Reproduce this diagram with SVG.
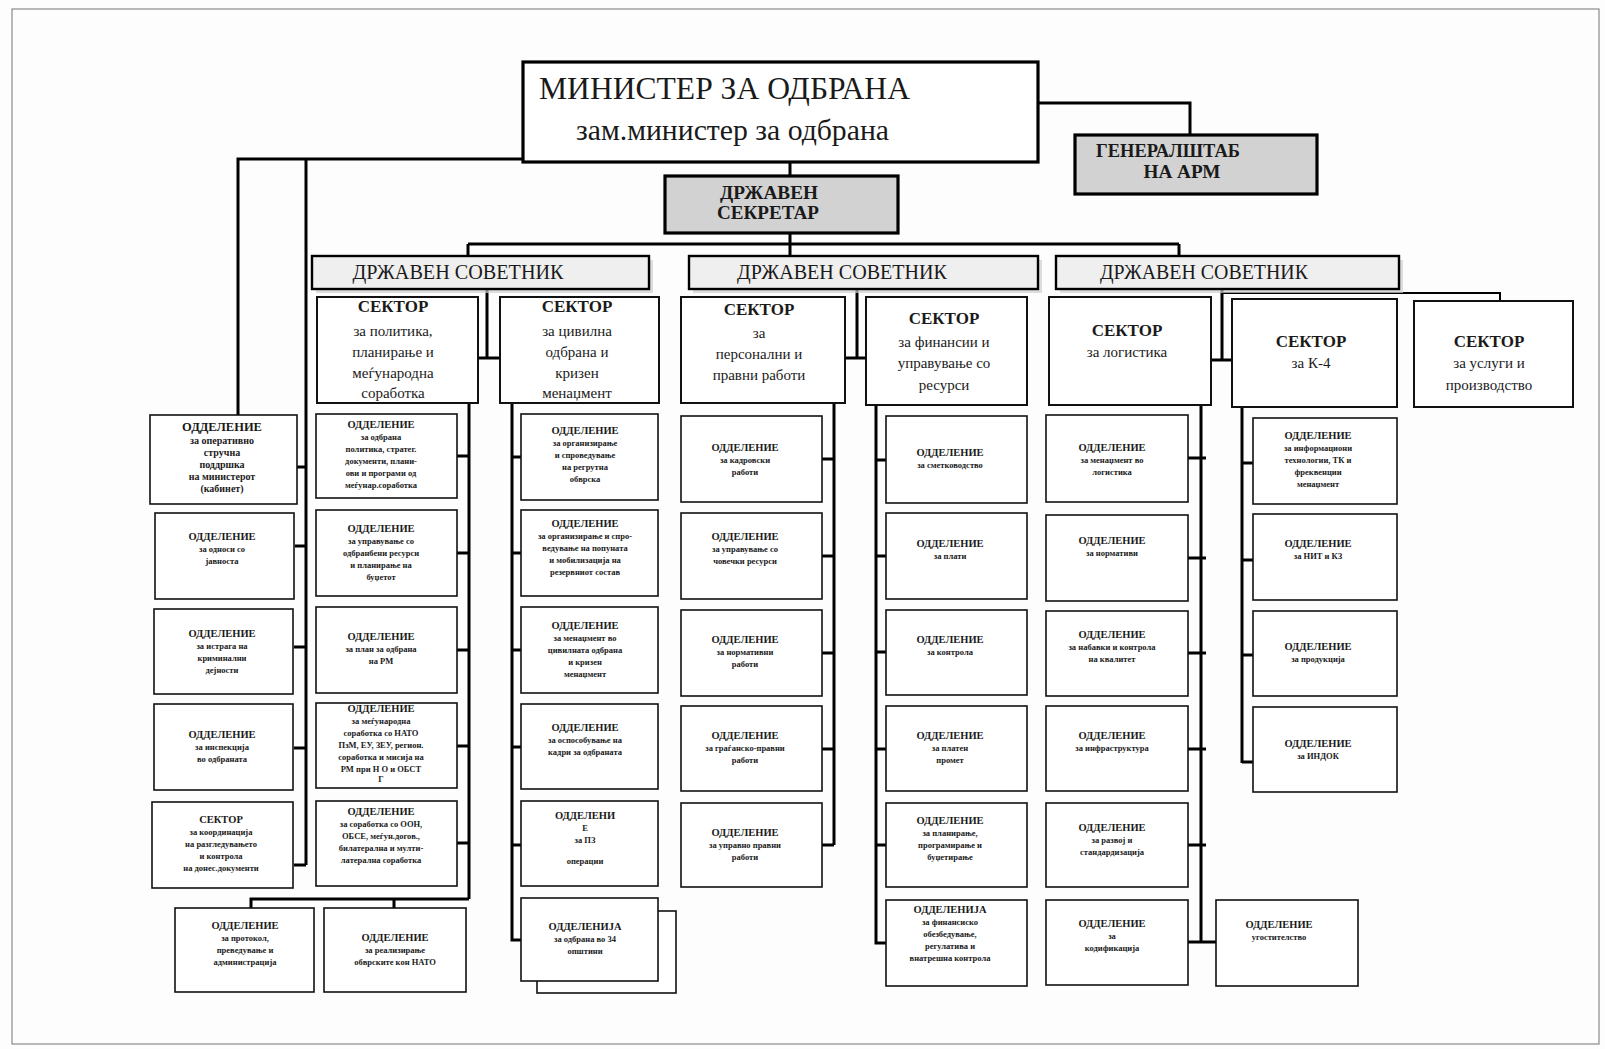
<svg xmlns="http://www.w3.org/2000/svg" width="1605" height="1049" viewBox="0 0 1605 1049">
  <style>
    .frame { fill: none; stroke: #8a8a8a; stroke-width: 1.2; }
    .b { fill: #fff; stroke: #111; stroke-width: 1.6; }
    .sb { fill: #fff; stroke: #111; stroke-width: 2; }
    .top { fill: #fff; stroke: #000; stroke-width: 3.2; }
    .grey { fill: #d2d2d2; stroke: #000; stroke-width: 3.2; }
    .adv { fill: #efefef; stroke: #000; stroke-width: 2.4; }
    .shadow { fill: #cfcfcf; opacity: 0.7; }
    .c { fill: none; stroke: #000; stroke-width: 3; }
    .c2 { fill: none; stroke: #000; stroke-width: 2; }
    text { font-family: "Liberation Serif", "DejaVu Serif", serif; fill: #1a1a1a; text-anchor: middle; }
    .h { font-size: 10.5px; font-weight: bold; }
    .s { font-size: 8.5px; font-weight: bold; }
    .hl { font-size: 12.5px; font-weight: bold; }
    .sl { font-size: 10px; font-weight: bold; }
    .st { font-size: 17px; font-weight: bold; }
    .ss { font-size: 15px; }
    .big { font-size: 31px; text-anchor: start; }
    .mid { font-size: 30px; text-anchor: start; }
    .gt { font-size: 19px; font-weight: bold; }
    .adt { font-size: 20px; }
  </style>

  <rect width="1605" height="1049" fill="#fdfdfd"/>
  <rect class="frame" x="12" y="9" width="1587" height="1035"/>

  <!-- connectors -->
  <g id="connectors">
    <path class="c" d="M1038,103 H1190 V135"/>
    <path class="c" d="M790,162 V176"/>
    <path class="c" d="M790,233 V256 M468,244 H1179 M468,244 V256 M1179,244 V256"/>
    <!-- minister to the left column -->
    <path class="c" d="M523,159 H238 V415"/>
    <path class="c" d="M306,159 V865 M295,467 H306 M295,546 H306 M294,647 H306 M294,748 H306 M294,865 H306"/>
    <!-- adviser 1 -->
    <path class="c" d="M487,289 V358 M478,358 H500"/>
    <path class="c" d="M469,403 V899 M457,456 H469 M457,553 H469 M457,650 H469 M457,746 H469 M457,843 H469"/>
    <path class="c" d="M251,908 V899 H469 M394,899 V908"/>
    <path class="c" d="M512,403 V940 H521 M512,457 H521 M512,553 H521 M512,650 H521 M512,747 H521 M512,845 H521"/>
    <!-- adviser 2 -->
    <path class="c" d="M857,289 V358 M845,358 H866"/>
    <path class="c" d="M834,403 V845 M822,459 H834 M822,556 H834 M822,653 H834 M822,749 H834 M822,845 H834"/>
    <path class="c" d="M876,405 V943 H886 M876,460 H886 M876,556 H886 M876,652 H886 M876,749 H886 M876,845 H886"/>
    <!-- adviser 3 -->
    <path class="c" d="M1222,289 V360 M1211,360 H1232"/>
    <path class="c2" d="M1222,293 H1500 V301"/>
    <path class="c" d="M1201,405 V942 M1188,458 H1206 M1188,558 H1206 M1188,653 H1206 M1188,749 H1206 M1188,845 H1206 M1188,942 H1216"/>
    <path class="c" d="M1242,407 V763 M1242,463 H1253 M1242,560 H1253 M1242,655 H1253 M1242,762 H1253"/>
  </g>

  <!-- top level -->
  <g id="minister">
    <rect class="top" x="523" y="62" width="515" height="100"/>
    <text class="big" x="539" y="99" textLength="371" lengthAdjust="spacingAndGlyphs">МИНИСТЕР ЗА ОДБРАНА</text>
    <text class="mid" x="576" y="140" textLength="313" lengthAdjust="spacingAndGlyphs">зам.министер за одбрана</text>
  </g>
  <g id="general-staff">
    <rect class="grey" x="1075" y="135" width="242" height="59"/>
    <text class="gt" x="1168" y="157" textLength="144" lengthAdjust="spacingAndGlyphs">ГЕНЕРАЛШТАБ</text>
    <text class="gt" x="1182" y="178" textLength="77" lengthAdjust="spacingAndGlyphs">НА АРМ</text>
  </g>
  <g id="state-secretary">
    <rect class="grey" x="665" y="176" width="233" height="57"/>
    <text class="gt" x="769" y="199" textLength="98" lengthAdjust="spacingAndGlyphs">ДРЖАВЕН</text>
    <text class="gt" x="768" y="219" textLength="102" lengthAdjust="spacingAndGlyphs">СЕКРЕТАР</text>
  </g>

  <!-- state advisers -->
  <g id="adviser-1">
    <rect class="shadow" x="316" y="260" width="337" height="33"/>
    <rect class="adv" x="312" y="256" width="337" height="33"/>
    <text class="adt" x="458" y="279" textLength="211" lengthAdjust="spacingAndGlyphs">ДРЖАВЕН СОВЕТНИК</text>
  </g>
  <g id="adviser-2">
    <rect class="shadow" x="693" y="260" width="349" height="33"/>
    <rect class="adv" x="689" y="256" width="349" height="33"/>
    <text class="adt" x="842" y="279" textLength="210" lengthAdjust="spacingAndGlyphs">ДРЖАВЕН СОВЕТНИК</text>
  </g>
  <g id="adviser-3">
    <rect class="shadow" x="1060" y="260" width="343" height="33"/>
    <rect class="adv" x="1056" y="256" width="343" height="33"/>
    <text class="adt" x="1204" y="279" textLength="208" lengthAdjust="spacingAndGlyphs">ДРЖАВЕН СОВЕТНИК</text>
  </g>

  <!-- sectors -->
  <g id="sector-policy">
    <rect class="sb" x="317" y="297" width="161" height="106"/>
    <text class="st" x="393" y="312">СЕКТОР</text>
    <text class="ss" x="393" y="336">за политика,</text>
    <text class="ss" x="393" y="357">планирање и</text>
    <text class="ss" x="393" y="378">меѓународна</text>
    <text class="ss" x="393" y="398">соработка</text>
  </g>
  <g id="sector-civil">
    <rect class="sb" x="500" y="297" width="159" height="106"/>
    <text class="st" x="577" y="312">СЕКТОР</text>
    <text class="ss" x="577" y="336">за цивилна</text>
    <text class="ss" x="577" y="357">одбрана и</text>
    <text class="ss" x="577" y="378">кризен</text>
    <text class="ss" x="577" y="398">менаџмент</text>
  </g>
  <g id="sector-personnel">
    <rect class="sb" x="681" y="297" width="164" height="106"/>
    <text class="st" x="759" y="315">СЕКТОР</text>
    <text class="ss" x="759" y="338">за</text>
    <text class="ss" x="759" y="359">персонални и</text>
    <text class="ss" x="759" y="380">правни работи</text>
  </g>
  <g id="sector-finance">
    <rect class="sb" x="866" y="297" width="161" height="108"/>
    <text class="st" x="944" y="324">СЕКТОР</text>
    <text class="ss" x="944" y="347">за финансии и</text>
    <text class="ss" x="944" y="368">управување со</text>
    <text class="ss" x="944" y="390">ресурси</text>
  </g>
  <g id="sector-logistics">
    <rect class="sb" x="1049" y="297" width="162" height="108"/>
    <text class="st" x="1127" y="336">СЕКТОР</text>
    <text class="ss" x="1127" y="357">за логистика</text>
  </g>
  <g id="sector-c4">
    <rect class="sb" x="1232" y="299" width="165" height="108"/>
    <text class="st" x="1311" y="347">СЕКТОР</text>
    <text class="ss" x="1311" y="368">за К-4</text>
  </g>
  <g id="sector-services">
    <rect class="sb" x="1414" y="301" width="159" height="106"/>
    <text class="st" x="1489" y="347">СЕКТОР</text>
    <text class="ss" x="1489" y="368">за услуги и</text>
    <text class="ss" x="1489" y="390">производство</text>
  </g>

  <!-- units under the minister -->
  <g id="unit-cabinet">
    <rect class="b" x="150" y="415" width="147" height="89"/>
    <text x="222" y="431"><tspan class="hl">ОДДЕЛЕНИЕ</tspan><tspan class="sl" x="222" dy="13">за оперативно</tspan><tspan class="sl" x="222" dy="12">стручна</tspan><tspan class="sl" x="222" dy="12">поддршка</tspan><tspan class="sl" x="222" dy="12">на министерот</tspan><tspan class="sl" x="222" dy="12">(кабинет)</tspan></text>
  </g>
  <g id="unit-public">
    <rect class="b" x="155" y="513" width="139" height="86"/>
    <text x="222" y="540"><tspan class="h">ОДДЕЛЕНИЕ</tspan><tspan class="s" x="222" dy="12">за односи со</tspan><tspan class="s" x="222" dy="12">јавноста</tspan></text>
  </g>
  <g id="unit-investigation">
    <rect class="b" x="154" y="609" width="139" height="85"/>
    <text x="222" y="637"><tspan class="h">ОДДЕЛЕНИЕ</tspan><tspan class="s" x="222" dy="12">за истрага на</tspan><tspan class="s" x="222" dy="12">криминални</tspan><tspan class="s" x="222" dy="12">дејности</tspan></text>
  </g>
  <g id="unit-inspection">
    <rect class="b" x="154" y="704" width="139" height="86"/>
    <text x="222" y="738"><tspan class="h">ОДДЕЛЕНИЕ</tspan><tspan class="s" x="222" dy="12">за инспекција</tspan><tspan class="s" x="222" dy="12">во одбраната</tspan></text>
  </g>
  <g id="sector-coordination">
    <rect class="b" x="152" y="802" width="141" height="86"/>
    <text x="221" y="823"><tspan class="h">СЕКТОР</tspan><tspan class="s" x="221" dy="12">за координација</tspan><tspan class="s" x="221" dy="12">на разгледувањето</tspan><tspan class="s" x="221" dy="12">и контрола</tspan><tspan class="s" x="221" dy="12">на донес.документи</tspan></text>
  </g>

  <!-- policy departments -->
  <g id="policy-1">
    <rect class="b" x="316" y="414" width="141" height="84"/>
    <text x="381" y="428"><tspan class="h">ОДДЕЛЕНИЕ</tspan><tspan class="s" x="381" dy="12">за одбрана</tspan><tspan class="s" x="381" dy="12">политика, стратег.</tspan><tspan class="s" x="381" dy="12">документи, плани-</tspan><tspan class="s" x="381" dy="12">ови и програми од</tspan><tspan class="s" x="381" dy="12">меѓунар.соработка</tspan></text>
  </g>
  <g id="policy-2">
    <rect class="b" x="316" y="510" width="141" height="86"/>
    <text x="381" y="532"><tspan class="h">ОДДЕЛЕНИЕ</tspan><tspan class="s" x="381" dy="12">за управување со</tspan><tspan class="s" x="381" dy="12">одбранбени ресурси</tspan><tspan class="s" x="381" dy="12">и планирање на</tspan><tspan class="s" x="381" dy="12">буџетот</tspan></text>
  </g>
  <g id="policy-3">
    <rect class="b" x="316" y="607" width="141" height="86"/>
    <text x="381" y="640"><tspan class="h">ОДДЕЛЕНИЕ</tspan><tspan class="s" x="381" dy="12">за план за одбрана</tspan><tspan class="s" x="381" dy="12">на РМ</tspan></text>
  </g>
  <g id="policy-4">
    <rect class="b" x="316" y="703" width="141" height="85"/>
    <text x="381" y="712"><tspan class="h">ОДДЕЛЕНИЕ</tspan><tspan class="s" x="381" dy="12">за меѓународна</tspan><tspan class="s" x="381" dy="12">соработка со НАТО</tspan><tspan class="s" x="381" dy="12">ПзМ, ЕУ, ЗЕУ, регион.</tspan><tspan class="s" x="381" dy="12">соработка и мисија на</tspan><tspan class="s" x="381" dy="12">РМ при Н     О и ОБСТ</tspan><tspan class="s" x="381" dy="10">Г</tspan></text>
  </g>
  <g id="policy-5">
    <rect class="b" x="316" y="801" width="141" height="85"/>
    <text x="381" y="815"><tspan class="h">ОДДЕЛЕНИЕ</tspan><tspan class="s" x="381" dy="12">за соработка со ООН,</tspan><tspan class="s" x="381" dy="12">ОБСЕ, меѓун.догов.,</tspan><tspan class="s" x="381" dy="12">билатерална и мулти-</tspan><tspan class="s" x="381" dy="12">латерална соработка</tspan></text>
  </g>
  <g id="policy-protocol">
    <rect class="b" x="175" y="908" width="139" height="84"/>
    <text x="245" y="929"><tspan class="h">ОДДЕЛЕНИЕ</tspan><tspan class="s" x="245" dy="12">за протокол,</tspan><tspan class="s" x="245" dy="12">преведување и</tspan><tspan class="s" x="245" dy="12">администрација</tspan></text>
  </g>
  <g id="policy-nato">
    <rect class="b" x="324" y="908" width="142" height="84"/>
    <text x="395" y="941"><tspan class="h">ОДДЕЛЕНИЕ</tspan><tspan class="s" x="395" dy="12">за реализирање</tspan><tspan class="s" x="395" dy="12">обврските кон НАТО</tspan></text>
  </g>

  <!-- civil defence departments -->
  <g id="civil-1">
    <rect class="b" x="521" y="414" width="137" height="86"/>
    <text x="585" y="434"><tspan class="h">ОДДЕЛЕНИЕ</tspan><tspan class="s" x="585" dy="12">за организирање</tspan><tspan class="s" x="585" dy="12">и спроведување</tspan><tspan class="s" x="585" dy="12">на регрутна</tspan><tspan class="s" x="585" dy="12">обврска</tspan></text>
  </g>
  <g id="civil-2">
    <rect class="b" x="521" y="510" width="137" height="86"/>
    <text x="585" y="527"><tspan class="h">ОДДЕЛЕНИЕ</tspan><tspan class="s" x="585" dy="12">за организирање и спро-</tspan><tspan class="s" x="585" dy="12">ведување на попуната</tspan><tspan class="s" x="585" dy="12">и мобилизација на</tspan><tspan class="s" x="585" dy="12">резервниот состав</tspan></text>
  </g>
  <g id="civil-3">
    <rect class="b" x="521" y="607" width="137" height="86"/>
    <text x="585" y="629"><tspan class="h">ОДДЕЛЕНИЕ</tspan><tspan class="s" x="585" dy="12">за менаџмент во</tspan><tspan class="s" x="585" dy="12">цивилната одбрана</tspan><tspan class="s" x="585" dy="12">и кризен</tspan><tspan class="s" x="585" dy="12">менаџмент</tspan></text>
  </g>
  <g id="civil-4">
    <rect class="b" x="521" y="704" width="137" height="85"/>
    <text x="585" y="731"><tspan class="h">ОДДЕЛЕНИЕ</tspan><tspan class="s" x="585" dy="12">за оспособување на</tspan><tspan class="s" x="585" dy="12">кадри за одбраната</tspan></text>
  </g>
  <g id="civil-5">
    <rect class="b" x="521" y="801" width="137" height="85"/>
    <text x="585" y="819"><tspan class="h">ОДДЕЛЕНИ</tspan><tspan class="s" x="585" dy="12">Е</tspan><tspan class="s" x="585" dy="12">за ПЗ</tspan><tspan class="s" x="585" dy="21">операции</tspan></text>
  </g>
  <g id="civil-6">
    <rect class="b" x="537" y="911" width="139" height="82"/>
    <rect class="b" x="521" y="898" width="137" height="83"/>
    <text x="585" y="930"><tspan class="h">ОДДЕЛЕНИЈА</tspan><tspan class="s" x="585" dy="12">за одбрана во 34</tspan><tspan class="s" x="585" dy="12">општини</tspan></text>
  </g>

  <!-- personnel departments -->
  <g id="personnel-1">
    <rect class="b" x="681" y="416" width="141" height="86"/>
    <text x="745" y="451"><tspan class="h">ОДДЕЛЕНИЕ</tspan><tspan class="s" x="745" dy="12">за кадровски</tspan><tspan class="s" x="745" dy="12">работи</tspan></text>
  </g>
  <g id="personnel-2">
    <rect class="b" x="681" y="513" width="141" height="86"/>
    <text x="745" y="540"><tspan class="h">ОДДЕЛЕНИЕ</tspan><tspan class="s" x="745" dy="12">за управување со</tspan><tspan class="s" x="745" dy="12">човечки ресурси</tspan></text>
  </g>
  <g id="personnel-3">
    <rect class="b" x="681" y="610" width="141" height="86"/>
    <text x="745" y="643"><tspan class="h">ОДДЕЛЕНИЕ</tspan><tspan class="s" x="745" dy="12">за нормативни</tspan><tspan class="s" x="745" dy="12">работи</tspan></text>
  </g>
  <g id="personnel-4">
    <rect class="b" x="681" y="706" width="141" height="85"/>
    <text x="745" y="739"><tspan class="h">ОДДЕЛЕНИЕ</tspan><tspan class="s" x="745" dy="12">за граѓанско-правни</tspan><tspan class="s" x="745" dy="12">работи</tspan></text>
  </g>
  <g id="personnel-5">
    <rect class="b" x="681" y="803" width="141" height="84"/>
    <text x="745" y="836"><tspan class="h">ОДДЕЛЕНИЕ</tspan><tspan class="s" x="745" dy="12">за управно правни</tspan><tspan class="s" x="745" dy="12">работи</tspan></text>
  </g>

  <!-- finance departments -->
  <g id="finance-1">
    <rect class="b" x="886" y="416" width="141" height="87"/>
    <text x="950" y="456"><tspan class="h">ОДДЕЛЕНИЕ</tspan><tspan class="s" x="950" dy="12">за сметководство</tspan></text>
  </g>
  <g id="finance-2">
    <rect class="b" x="886" y="513" width="141" height="86"/>
    <text x="950" y="547"><tspan class="h">ОДДЕЛЕНИЕ</tspan><tspan class="s" x="950" dy="12">за плати</tspan></text>
  </g>
  <g id="finance-3">
    <rect class="b" x="886" y="610" width="141" height="85"/>
    <text x="950" y="643"><tspan class="h">ОДДЕЛЕНИЕ</tspan><tspan class="s" x="950" dy="12">за контрола</tspan></text>
  </g>
  <g id="finance-4">
    <rect class="b" x="886" y="706" width="141" height="85"/>
    <text x="950" y="739"><tspan class="h">ОДДЕЛЕНИЕ</tspan><tspan class="s" x="950" dy="12">за платен</tspan><tspan class="s" x="950" dy="12">промет</tspan></text>
  </g>
  <g id="finance-5">
    <rect class="b" x="886" y="803" width="141" height="84"/>
    <text x="950" y="824"><tspan class="h">ОДДЕЛЕНИЕ</tspan><tspan class="s" x="950" dy="12">за планирање,</tspan><tspan class="s" x="950" dy="12">програмирање и</tspan><tspan class="s" x="950" dy="12">буџетирање</tspan></text>
  </g>
  <g id="finance-6">
    <rect class="b" x="886" y="900" width="141" height="86"/>
    <text x="950" y="913"><tspan class="h">ОДДЕЛЕНИЈА</tspan><tspan class="s" x="950" dy="12">за финансиско</tspan><tspan class="s" x="950" dy="12">обезбедување,</tspan><tspan class="s" x="950" dy="12">регулатива и</tspan><tspan class="s" x="950" dy="12">внатрешна контрола</tspan></text>
  </g>

  <!-- logistics departments -->
  <g id="logistics-1">
    <rect class="b" x="1046" y="415" width="142" height="87"/>
    <text x="1112" y="451"><tspan class="h">ОДДЕЛЕНИЕ</tspan><tspan class="s" x="1112" dy="12">за менаџмент во</tspan><tspan class="s" x="1112" dy="12">логистика</tspan></text>
  </g>
  <g id="logistics-2">
    <rect class="b" x="1046" y="515" width="142" height="86"/>
    <text x="1112" y="544"><tspan class="h">ОДДЕЛЕНИЕ</tspan><tspan class="s" x="1112" dy="12">за нормативи</tspan></text>
  </g>
  <g id="logistics-3">
    <rect class="b" x="1046" y="611" width="142" height="85"/>
    <text x="1112" y="638"><tspan class="h">ОДДЕЛЕНИЕ</tspan><tspan class="s" x="1112" dy="12">за набавки и контрола</tspan><tspan class="s" x="1112" dy="12">на квалитет</tspan></text>
  </g>
  <g id="logistics-4">
    <rect class="b" x="1046" y="706" width="142" height="85"/>
    <text x="1112" y="739"><tspan class="h">ОДДЕЛЕНИЕ</tspan><tspan class="s" x="1112" dy="12">за инфраструктура</tspan></text>
  </g>
  <g id="logistics-5">
    <rect class="b" x="1046" y="803" width="142" height="84"/>
    <text x="1112" y="831"><tspan class="h">ОДДЕЛЕНИЕ</tspan><tspan class="s" x="1112" dy="12">за развој и</tspan><tspan class="s" x="1112" dy="12">стандардизација</tspan></text>
  </g>
  <g id="logistics-6">
    <rect class="b" x="1046" y="900" width="142" height="85"/>
    <text x="1112" y="927"><tspan class="h">ОДДЕЛЕНИЕ</tspan><tspan class="s" x="1112" dy="12">за</tspan><tspan class="s" x="1112" dy="12">кодификација</tspan></text>
  </g>
  <g id="logistics-catering">
    <rect class="b" x="1216" y="900" width="142" height="86"/>
    <text x="1279" y="928"><tspan class="h">ОДДЕЛЕНИЕ</tspan><tspan class="s" x="1279" dy="12">угостителство</tspan></text>
  </g>

  <!-- C4 departments -->
  <g id="c4-1">
    <rect class="b" x="1253" y="418" width="144" height="86"/>
    <text x="1318" y="439"><tspan class="h">ОДДЕЛЕНИЕ</tspan><tspan class="s" x="1318" dy="12">за информациони</tspan><tspan class="s" x="1318" dy="12">технологии, ТК и</tspan><tspan class="s" x="1318" dy="12">фреквенции</tspan><tspan class="s" x="1318" dy="12">менаџмент</tspan></text>
  </g>
  <g id="c4-2">
    <rect class="b" x="1253" y="514" width="144" height="86"/>
    <text x="1318" y="547"><tspan class="h">ОДДЕЛЕНИЕ</tspan><tspan class="s" x="1318" dy="12">за НИТ и КЗ</tspan></text>
  </g>
  <g id="c4-3">
    <rect class="b" x="1253" y="611" width="144" height="85"/>
    <text x="1318" y="650"><tspan class="h">ОДДЕЛЕНИЕ</tspan><tspan class="s" x="1318" dy="12">за продукција</tspan></text>
  </g>
  <g id="c4-4">
    <rect class="b" x="1253" y="707" width="144" height="85"/>
    <text x="1318" y="747"><tspan class="h">ОДДЕЛЕНИЕ</tspan><tspan class="s" x="1318" dy="12">за ИНДОК</tspan></text>
  </g>
</svg>
